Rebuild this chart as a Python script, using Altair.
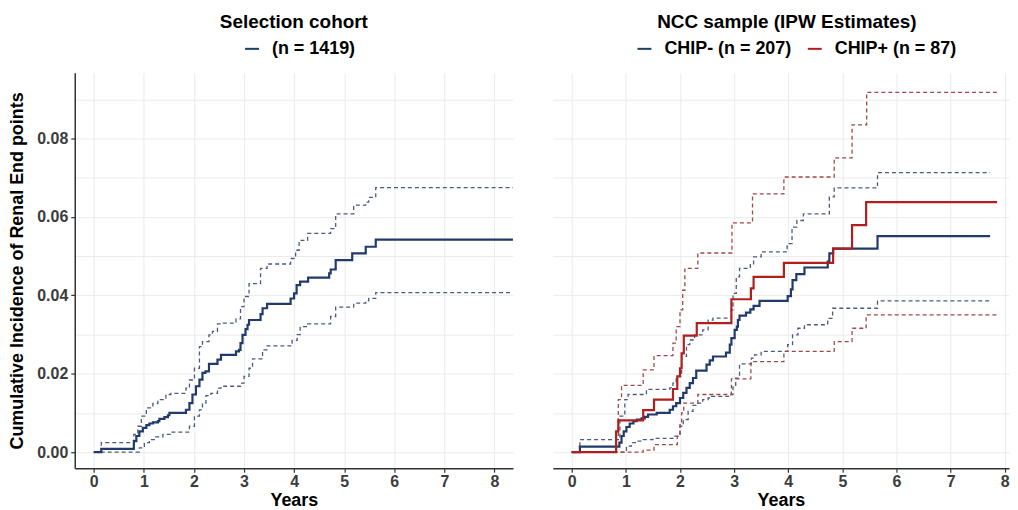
import altair as alt
import pandas as pd

# ---------------- data ----------------
# Selection cohort (n = 1419)
sel_est_t = [0, 0.15, 0.80, 0.85, 0.91, 0.98, 1.05, 1.11, 1.18, 1.28, 1.31, 1.41, 1.48, 1.51, 1.84, 1.91, 1.97,
             2.04, 2.11, 2.17, 2.23, 2.30, 2.47, 2.54, 2.84, 2.90, 2.93, 2.97, 3.03, 3.07, 3.10, 3.33, 3.37, 3.46,
             3.93, 4.00, 4.05, 4.12, 4.28, 4.70, 4.73, 4.83, 5.16, 5.43, 5.63, 8.37]
sel_est_v = [0, 0.0008, 0.0028, 0.0041, 0.0053, 0.0062, 0.0069, 0.0073, 0.0076, 0.0079, 0.0085, 0.0089, 0.0094,
             0.0100, 0.0108, 0.0125, 0.0147, 0.0168, 0.0185, 0.0202, 0.0206, 0.0225, 0.0236, 0.0248, 0.0257, 0.0261,
             0.0278, 0.0299, 0.0314, 0.0325, 0.0337, 0.0352, 0.0367, 0.0378, 0.0392, 0.0405, 0.0426, 0.0435, 0.0445,
             0.0456, 0.0466, 0.0490, 0.0507, 0.0524, 0.0542, 0.0542]
sel_up_t = [0, 0.15, 0.80, 0.88, 0.95, 1.05, 1.18, 1.28, 1.44, 1.54, 1.84, 1.91, 2.01, 2.11, 2.17, 2.30, 2.37, 2.47,
            2.54, 2.84, 2.93, 3.00, 3.10, 3.33, 3.46, 3.93, 4.03, 4.10, 4.27, 4.73, 4.83, 5.19, 5.43, 5.49, 5.63, 8.37]
sel_up_v = [0, 0.0024, 0.0045, 0.0066, 0.0092, 0.0113, 0.0124, 0.0134, 0.0147, 0.0150, 0.0163, 0.0184, 0.0214,
            0.0269, 0.0282, 0.0299, 0.0308, 0.0327, 0.0329, 0.0340, 0.0371, 0.0397, 0.0430, 0.0469, 0.0480, 0.0494,
            0.0515, 0.0540, 0.0558, 0.0570, 0.0608, 0.0630, 0.0638, 0.0650, 0.0675, 0.0675]
sel_lo_t = [0, 0.91, 1.01, 1.11, 1.24, 1.38, 1.54, 1.91, 2.01, 2.11, 2.17, 2.24, 2.34, 2.47, 2.54, 2.93, 3.00, 3.10,
            3.17, 3.37, 3.46, 3.96, 4.06, 4.12, 4.27, 4.73, 4.83, 5.19, 5.43, 5.49, 5.63, 8.37]
sel_lo_v = [0, 0.0011, 0.0024, 0.0032, 0.0039, 0.0045, 0.0051, 0.0066, 0.0092, 0.0108, 0.0125, 0.0144, 0.0150,
            0.0163, 0.0168, 0.0176, 0.0193, 0.0214, 0.0238, 0.0261, 0.0271, 0.0285, 0.0300, 0.0320, 0.0327, 0.0346,
            0.0370, 0.0380, 0.0386, 0.0392, 0.0407, 0.0407]

# NCC sample, CHIP- (n = 207)
neg_est_t = [0, 0.15, 0.88, 0.92, 0.96, 1.01, 1.07, 1.14, 1.20, 1.29, 1.35, 1.41, 1.57, 1.81, 1.87, 1.93, 2.00, 2.06,
             2.12, 2.18, 2.24, 2.30, 2.49, 2.55, 2.61, 2.85, 2.92, 2.95, 3.01, 3.05, 3.07, 3.10, 3.22, 3.30, 3.36,
             3.47, 3.99, 4.05, 4.08, 4.15, 4.30, 4.73, 4.76, 4.83, 5.65, 7.73]
neg_est_v = [0, 0.0014, 0.0024, 0.0041, 0.0053, 0.0064, 0.0073, 0.0079, 0.0083, 0.0086, 0.0090, 0.0096, 0.0100,
             0.0108, 0.0117, 0.0125, 0.0138, 0.0151, 0.0164, 0.0176, 0.0189, 0.0208, 0.0223, 0.0234, 0.0244, 0.0254,
             0.0274, 0.0291, 0.0312, 0.0320, 0.0337, 0.0348, 0.0356, 0.0364, 0.0373, 0.0386, 0.0398, 0.0415, 0.0439,
             0.0454, 0.0471, 0.0486, 0.0507, 0.0519, 0.0551, 0.0551]
neg_up_t = [0, 0.15, 0.89, 0.98, 1.04, 1.38, 1.81, 1.87, 1.93, 2.03, 2.12, 2.18, 2.27, 2.42, 2.52, 2.61, 2.95, 2.98,
            3.04, 3.10, 3.30, 3.36, 3.50, 3.98, 4.07, 4.16, 4.28, 4.76, 4.85, 5.65, 7.73]
neg_up_v = [0, 0.0032, 0.0092, 0.0134, 0.0147, 0.0160, 0.0164, 0.0176, 0.0193, 0.0244, 0.0274, 0.0286, 0.0299,
            0.0312, 0.0337, 0.0342, 0.0363, 0.0405, 0.0447, 0.0469, 0.0478, 0.0498, 0.0511, 0.0532, 0.0574, 0.0591,
            0.0608, 0.0651, 0.0674, 0.0713, 0.0713]
neg_lo_t = [0, 1.01, 1.10, 1.20, 1.32, 1.50, 1.87, 2.00, 2.06, 2.15, 2.24, 2.33, 2.42, 2.52, 2.58, 2.92, 2.98, 3.03,
            3.10, 3.32, 3.38, 3.50, 3.99, 4.08, 4.18, 4.30, 4.73, 4.82, 5.65, 7.73]
neg_lo_v = [0, 0.0015, 0.0024, 0.0028, 0.0032, 0.0035, 0.0041, 0.0066, 0.0083, 0.0104, 0.0119, 0.0125, 0.0134,
            0.0138, 0.0142, 0.0147, 0.0168, 0.0189, 0.0225, 0.0240, 0.0248, 0.0257, 0.0274, 0.0299, 0.0316, 0.0325,
            0.0341, 0.0367, 0.0386, 0.0386]

# NCC sample, CHIP+ (n = 87)
pos_est_t = [0, 0.82, 0.86, 1.32, 1.52, 1.87, 1.95, 2.00, 2.03, 2.07, 2.31, 2.95, 3.31, 3.36, 3.92, 4.83, 5.18, 5.44, 7.86]
pos_est_v = [0, 0.0053, 0.0081, 0.0107, 0.0134, 0.0161, 0.0193, 0.0214, 0.0252, 0.0297, 0.0329, 0.0390, 0.0418,
             0.0447, 0.0483, 0.0519, 0.0579, 0.0638, 0.0638]
pos_up_t = [0, 0.82, 0.86, 0.92, 1.32, 1.52, 1.87, 1.93, 2.00, 2.05, 2.09, 2.33, 2.96, 3.34, 3.92, 4.85, 5.18, 5.45, 7.86]
pos_up_v = [0, 0.0041, 0.0134, 0.0170, 0.0210, 0.0246, 0.0278, 0.0320, 0.0363, 0.0413, 0.0469, 0.0508, 0.0585,
            0.0659, 0.0702, 0.0751, 0.0835, 0.0918, 0.0918]
pos_lo_t = [0, 1.32, 1.52, 1.95, 2.00, 2.03, 2.07, 2.33, 2.95, 3.31, 3.92, 4.85, 5.18, 5.44, 7.86]
pos_lo_v = [0, 0.0005, 0.0019, 0.0040, 0.0070, 0.0100, 0.0125, 0.0147, 0.0187, 0.0231, 0.0257, 0.0282, 0.0316,
            0.0350, 0.0350]

x_ticks = [0, 1, 2, 3, 4, 5, 6, 7, 8]
y_grid = [0, 0.01, 0.02, 0.03, 0.04, 0.05, 0.06, 0.07, 0.08, 0.09]

SEL = "(n = 1419)"
NEG = "CHIP- (n = 207)"
POS = "CHIP+ (n = 87)"
CI = " 95% CI"
NAVY = "#1f3a6b"
RED = "#b01e1e"
NAVY_CI = "#4b5b7c"
RED_CI = "#9e4848"
FONT = "Liberation Sans"


def curves(group, parts):
    rows = []
    for kind, ts, vs in parts:
        key = group if kind == "est" else group + CI
        for t, v in zip(ts, vs):
            rows.append({"t": t, "v": v, "key": key, "kind": kind, "line": group + "|" + kind})
    return rows


left_df = pd.DataFrame(curves(SEL, [("lo", sel_lo_t, sel_lo_v), ("up", sel_up_t, sel_up_v),
                                    ("est", sel_est_t, sel_est_v)]))
right_df = pd.DataFrame(curves(NEG, [("lo", neg_lo_t, neg_lo_v), ("up", neg_up_t, neg_up_v),
                                     ("est", neg_est_t, neg_est_v)])
                        + curves(POS, [("lo", pos_lo_t, pos_lo_v), ("up", pos_up_t, pos_up_v),
                                       ("est", pos_est_t, pos_est_v)]))

y_scale = alt.Scale(domain=[-0.0041, 0.0968], nice=False, zero=False)
is_major = "round(datum.value*100) % 2 == 0"


def panel(df, domain_x, width, groups, colors, ci_colors, title, legend_x, y_axis, title_dx):
    est = alt.datum.kind == "est"
    return alt.Chart(df).mark_line(interpolate="step-after", clip=True).encode(
        x=alt.X("t:Q", scale=alt.Scale(domain=domain_x, nice=False, zero=False),
                axis=alt.Axis(values=x_ticks, format="d", title="Years")),
        y=alt.Y("v:Q", scale=y_scale, axis=y_axis),
        color=alt.Color("key:N",
                        scale=alt.Scale(domain=groups + [g + CI for g in groups], range=colors + ci_colors),
                        legend=alt.Legend(title=None, orient="none", legendX=legend_x, legendY=-33,
                                          direction="horizontal", values=groups)),
        detail="line:N",
        strokeDash=alt.condition(est, alt.value([1, 0]), alt.value([4, 3])),
        strokeWidth=alt.condition(est, alt.value(2.2), alt.value(1.3)),
    ).properties(
        width=width, height=397,
        title=alt.TitleParams(title, fontSize=19, fontWeight="bold", font=FONT, color="black",
                              anchor="middle", offset=8, dx=title_dx),
    )


left_axis = alt.Axis(values=y_grid, title="Cumulative Incidence of Renal End points",
                     labelExpr=is_major + " ? format(datum.value, '.2f') : ''",
                     tickColor={"condition": {"test": is_major, "value": "#333333"}, "value": "transparent"},
                     titlePadding=10)
right_axis = alt.Axis(values=y_grid, title=None, labels=False, ticks=False, domain=False)

left = panel(left_df, [-0.38, 8.37], 440, [SEL], [NAVY], [NAVY_CI], "Selection cohort", 169, left_axis, 0)
right = panel(right_df, [-0.35, 8.08], 458, [NEG, POS], [NAVY, RED], [NAVY_CI, RED_CI],
              "NCC sample (IPW Estimates)", 83, right_axis, 6)

chart = alt.hconcat(left, right, spacing=40).resolve_scale(color="independent").properties(
    padding={"left": 0, "top": 4, "right": 0, "bottom": 0}
).configure_view(stroke=None).configure_axis(
    labelFont=FONT, labelFontSize=16, labelFontWeight="bold", labelColor="#3c3c3c", labelPadding=3,
    titleFont=FONT, titleFontSize=18, titleFontWeight="bold", titleColor="black",
    gridColor="#ebebeb", gridWidth=1, domainColor="#333333", domainWidth=1.5,
    tickColor="#333333", tickSize=4, tickWidth=1.2,
).configure_axisX(titlePadding=2, labelPadding=1).configure_legend(
    labelFont=FONT, labelFontSize=18, labelFontWeight="bold", labelColor="black",
    symbolType="stroke", symbolSize=196, symbolStrokeWidth=2, labelOffset=11, columnPadding=12,
    padding=0, symbolOpacity=1,
)

chart.save("out.html", embed_options={"renderer": "svg", "actions": False})
